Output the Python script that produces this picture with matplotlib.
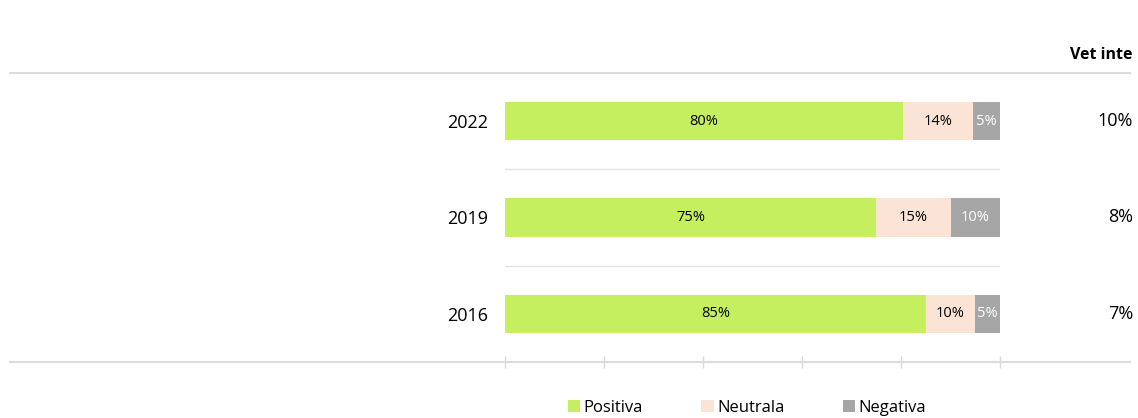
import matplotlib
matplotlib.use("Agg")
import matplotlib.pyplot as plt
from matplotlib.lines import Line2D
from matplotlib.patches import Patch
from matplotlib.transforms import blended_transform_factory
import numpy as np

plt.rcParams['font.family'] = ['Open Sans', 'DejaVu Sans']

years = ["2016", "2019", "2022"]
positiva = [85, 75, 80.4]
neutrala = [10, 15, 14.2]
negativa = [5, 10, 5.4]
vet_inte = ["7%", "8%", "10%"]
series_names = ["Positiva", "Neutrala", "Negativa"]
colors = ["#C6EF5F", "#FBE3D6", "#A6A6A6"]
label_colors = ["black", "black", "white"]
xticks = [0, 20, 40, 60, 80, 100]

W, H = 1138, 418
fig = plt.figure(figsize=(W / 100, H / 100), dpi=100)
ax = fig.add_axes([505 / W, 1 - 362 / H, 495 / W, 289 / H])

y = np.arange(len(years))
left = np.zeros(len(years))
for vals, c, lc, name in zip([positiva, neutrala, negativa], colors, label_colors, series_names):
    ax.barh(y, vals, left=left, height=0.40, color=c, label=name)
    for yi, l, v in zip(y, left, vals):
        ax.text(l + v / 2, yi, f"{v:.0f}%", ha="center", va="center", fontsize=10.5, color=lc)
    left = left + np.array(vals)

ax.set_xlim(0, 100)
ax.set_ylim(-0.5, 2.5)
for yy in [0.5, 1.5]:
    ax.axhline(yy, color="#E3E3E3", lw=1)

for s in ["top", "right", "left", "bottom"]:
    ax.spines[s].set_visible(False)
ax.set_yticks(y)
ax.set_yticklabels(years, fontsize=13)
ax.tick_params(axis="y", length=0, pad=12)
ax.set_xticks(xticks)
ax.set_xticklabels([])
ax.tick_params(axis="x", direction="inout", length=9, color="#D9D9D9", width=1)

# full-width rules
fig.add_artist(Line2D([10 / W, 1130 / W], [1 - 73 / H, 1 - 73 / H], color="#DCDCDC", lw=1.5))
fig.add_artist(Line2D([10 / W, 1130 / W], [1 - 362 / H, 1 - 362 / H], color="#DCDCDC", lw=1.5))

# Vet inte column
fig.text(1133 / W, 1 - 55 / H, "Vet inte", ha="right", va="center", fontsize=11.5, fontweight="bold")
tr = blended_transform_factory(fig.transFigure, ax.transData)
for yi, v in zip(y, vet_inte):
    ax.text(1133 / W, yi, v, transform=tr, ha="right", va="center", fontsize=13)

handles = [Patch(facecolor=c, edgecolor="none") for c in colors]
fig.legend(handles, series_names, loc="center", bbox_to_anchor=(747 / W, 1 - 408 / H), ncol=3,
           frameon=False, fontsize=12, handlelength=0.75, handleheight=0.75, handletextpad=0.2,
           columnspacing=3.5)

fig.savefig("out.png", dpi=100)
